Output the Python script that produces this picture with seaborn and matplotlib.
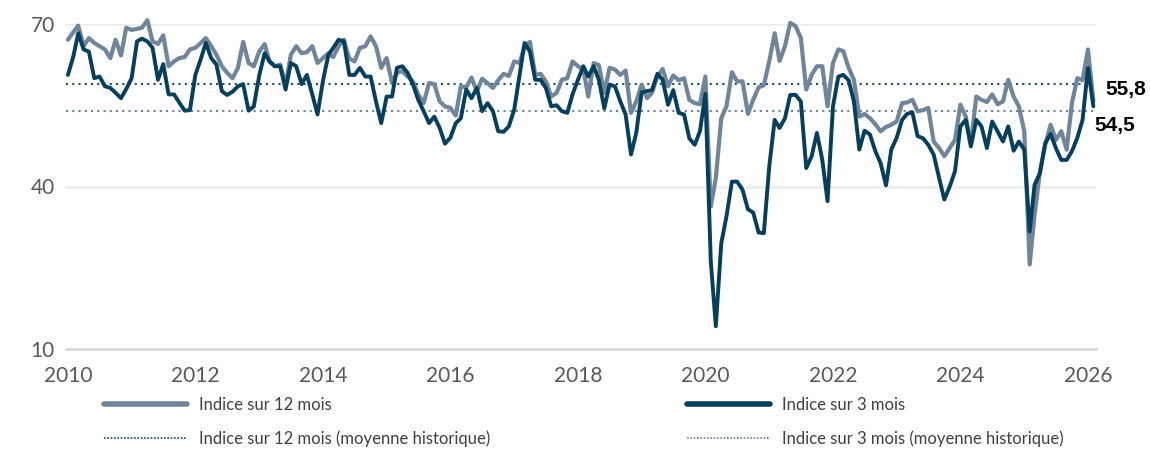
import pandas as pd
import matplotlib
matplotlib.use('Agg')
import matplotlib.pyplot as plt
from matplotlib.lines import Line2D
import seaborn as sns

# indices mensuels, janvier 2010 -> fevrier 2026
indice_12m = [
    67.1, 68.5, 69.7, 65.9, 67.4, 66.5, 65.9, 65.3, 63.7, 67.1, 64.2, 69.3,
    68.9, 69.1, 69.3, 70.7, 66.8, 66.3, 67.9, 62.2, 63.1, 63.7, 63.9, 65.3,
    65.6, 66.5, 67.4, 65.9, 64.3, 62.2, 61.0, 60.0, 61.9, 66.7, 62.8, 62.2,
    64.9, 66.3, 63.1, 62.2, 62.5, 58.8, 64.3, 65.9, 64.6, 64.8, 65.9, 62.8,
    63.7, 64.6, 63.9, 65.9, 67.1, 63.6, 63.1, 65.6, 65.9, 67.7, 65.9, 61.9,
    63.7, 59.1, 61.0, 61.3, 60.3, 59.4, 57.0, 55.4, 59.1, 58.9, 55.7, 54.8,
    54.5, 53.1, 58.5, 58.3, 60.1, 57.6, 59.9, 59.1, 58.2, 59.6, 60.8, 60.4,
    63.1, 62.8, 65.9, 66.7, 60.6, 60.8, 59.4, 56.6, 57.3, 59.7, 60.0, 63.1,
    62.2, 61.6, 56.6, 62.8, 62.4, 57.3, 61.9, 61.6, 60.6, 61.4, 53.6, 55.7,
    58.8, 56.3, 57.3, 60.3, 61.7, 58.5, 60.5, 59.6, 60.0, 56.0, 55.4, 55.2,
    60.3, 36.3, 41.6, 52.6, 54.8, 61.1, 59.4, 59.4, 53.4, 56.0, 58.3, 58.7,
    63.1, 68.3, 63.2, 65.9, 70.2, 69.6, 67.4, 57.9, 60.6, 62.2, 62.2, 54.8,
    62.8, 65.3, 65.0, 61.9, 59.7, 52.9, 53.4, 52.6, 51.5, 50.2, 51.0, 51.4,
    52.0, 55.4, 55.5, 56.0, 53.9, 54.1, 54.5, 48.3, 47.1, 45.6, 47.1, 48.6,
    55.1, 52.9, 47.7, 56.6, 56.0, 55.6, 57.0, 55.2, 55.7, 59.7, 56.6, 54.8,
    50.2, 25.6, 34.8, 42.8, 47.7, 51.4, 48.6, 50.2, 46.8, 55.4, 60.0, 59.6,
    65.3, 55.8,
]
indice_3m = [
    60.6, 64.0, 68.3, 65.3, 64.9, 60.0, 60.3, 58.5, 58.2, 57.3, 56.3, 58.0,
    60.0, 66.8, 67.3, 66.8, 65.6, 59.7, 62.6, 57.0, 57.0, 55.5, 54.0, 54.1,
    60.6, 63.5, 66.5, 63.7, 62.5, 57.6, 56.9, 57.5, 58.5, 58.9, 54.0, 54.8,
    60.5, 64.6, 63.1, 62.2, 62.2, 57.9, 62.8, 62.2, 58.9, 60.6, 57.0, 53.3,
    59.5, 64.3, 65.6, 67.1, 66.8, 60.6, 60.6, 61.9, 60.3, 60.3, 55.7, 51.7,
    56.6, 56.6, 61.9, 62.2, 61.0, 58.8, 56.0, 53.9, 51.7, 52.9, 50.8, 47.9,
    49.0, 51.7, 52.6, 57.9, 56.3, 58.2, 53.9, 55.4, 53.9, 50.2, 50.1, 51.1,
    54.2, 60.6, 66.5, 64.9, 59.7, 59.7, 58.2, 54.8, 55.0, 53.9, 53.6, 57.0,
    59.7, 62.2, 60.3, 62.2, 59.7, 54.4, 58.8, 58.5, 55.7, 53.3, 45.9, 49.9,
    57.4, 57.6, 57.8, 60.8, 59.7, 55.1, 57.8, 53.6, 53.3, 48.9, 47.7, 50.2,
    57.1, 26.2, 14.2, 29.5, 34.5, 40.9, 40.9, 39.4, 35.8, 35.2, 31.5, 31.4,
    43.7, 52.3, 50.8, 52.6, 56.9, 56.9, 55.7, 43.4, 45.6, 49.9, 44.9, 37.3,
    54.8, 60.3, 60.6, 59.6, 55.7, 46.8, 50.3, 49.6, 46.5, 44.3, 40.2, 46.8,
    49.0, 52.3, 53.4, 53.7, 49.3, 48.9, 47.7, 45.9, 41.6, 37.6, 40.0, 42.8,
    51.1, 52.3, 47.4, 52.3, 51.1, 47.1, 52.0, 50.2, 48.3, 51.1, 46.6, 48.3,
    46.8, 31.7, 40.3, 42.5, 48.0, 49.7, 47.1, 44.9, 44.9, 46.5, 49.0, 52.3,
    61.9, 54.8,
]
moyenne_12m = 59.0
moyenne_3m = 54.0
derniere_12m = '55,8'
derniere_3m = '54,5'
annees = list(range(2010, 2027, 2))
y_ticks = [10, 40, 70]

noms = ['Indice sur 12 mois', 'Indice sur 3 mois',
        'Indice sur 12 mois (moyenne historique)', 'Indice sur 3 mois (moyenne historique)']

gris = '#70859a'
marine = '#053f5e'
pointille_fonce = '#1d4c6c'
pointille_clair = '#6d8297'

df = pd.DataFrame({
    'date': pd.date_range('2010-01-01', periods=len(indice_12m), freq='MS'),
    'i12': indice_12m,
    'i3': indice_3m,
})

sns.set_style('white')
plt.rcParams['font.family'] = ['Lato', 'DejaVu Sans']

fig = plt.figure(figsize=(11.5, 4.5), dpi=100)
ax = fig.add_axes([66 / 1150, 1 - 349 / 450, 1030 / 1150, 325 / 450])

ax.axhline(moyenne_12m, color=pointille_fonce, lw=1.5, ls=(0, (1, 2)), zorder=2)
ax.axhline(moyenne_3m, color=pointille_clair, lw=1.5, ls=(0, (1, 2)), zorder=2)
sns.lineplot(data=df, x='date', y='i12', color=gris, lw=3, ax=ax, zorder=3, clip_on=False)
sns.lineplot(data=df, x='date', y='i3', color=marine, lw=2.8, ax=ax, zorder=4, clip_on=False)

ax.set_xlim(pd.Timestamp('2009-12-21'), pd.Timestamp('2026-02-16'))
ax.set_ylim(10, 70)
ax.set_yticks(y_ticks)
ax.set_xticks([pd.Timestamp(f'{a}-01-01') for a in annees])
ax.set_xticklabels([str(a) for a in annees])
ax.set_xlabel('')
ax.set_ylabel('')
ax.tick_params(axis='both', length=0, labelsize=15, labelcolor='#595959')
ax.tick_params(axis='x', pad=12)
ax.tick_params(axis='y', pad=8)
ax.grid(axis='y', color='#ececec', lw=1.8)
ax.grid(axis='x', visible=False)
for s in ['top', 'right', 'left']:
    ax.spines[s].set_visible(False)
ax.spines['bottom'].set_color('#d9d9d9')
ax.spines['bottom'].set_linewidth(2)

fig.text(1126 / 1150, 1 - 90 / 450, derniere_12m, ha='center', va='center',
         fontsize=15, fontweight='bold', color='black', family=['Liberation Sans', 'DejaVu Sans'])
fig.text(1115 / 1150, 1 - 125 / 450, derniere_3m, ha='center', va='center',
         fontsize=15, fontweight='bold', color='black', family=['Liberation Sans', 'DejaVu Sans'])

poignees = [
    Line2D([], [], color=gris, lw=4),
    Line2D([], [], color=pointille_fonce, lw=1.2, ls=(0, (1, 1))),
    Line2D([], [], color=marine, lw=4),
    Line2D([], [], color=pointille_clair, lw=1.2, ls=(0, (1, 1))),
]
leg = fig.legend(poignees, [noms[0], noms[2], noms[1], noms[3]], ncol=2,
                 loc='upper left', bbox_to_anchor=(104 / 1150, 1 - 397 / 450),
                 frameon=False, fontsize=12, handlelength=5.0, handletextpad=0.7,
                 columnspacing=11.8, labelspacing=1.05, borderpad=0, borderaxespad=0)
for t in leg.get_texts():
    t.set_color('#404040')

fig.savefig('out.png', dpi=100)
